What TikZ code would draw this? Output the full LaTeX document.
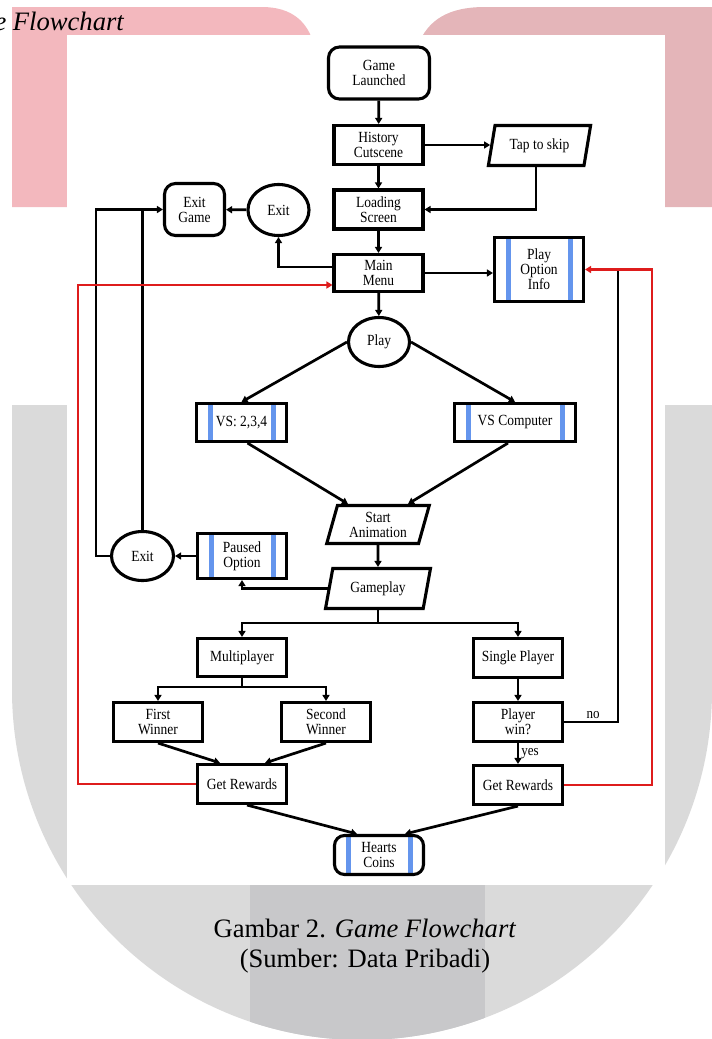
\documentclass[tikz,border=0pt]{standalone}
\usepackage{fontspec}
\setmainfont{Liberation Serif}
\newfontfamily\chartfont{Liberation Serif}[FakeStretch=0.87]
\usetikzlibrary{shapes.geometric,arrows.meta}

\definecolor{logopink}{RGB}{243,184,190}
\definecolor{logorose}{RGB}{228,181,185}
\definecolor{logogray}{RGB}{218,218,218}
\definecolor{logodark}{RGB}{200,200,202}
\definecolor{stripeblue}{RGB}{100,149,237}
\definecolor{backred}{RGB}{222,28,28}

\begin{document}
\begin{tikzpicture}[x=1pt,y=-1pt,
    box/.style={draw, line width=3.1pt, minimum width=89pt, minimum height=39pt, align=center, inner sep=1pt, font=\chartfont\fontsize{15.5}{15}\selectfont},
    startbox/.style={box, rounded corners=11pt},
    iobox/.style={box, trapezium, trapezium left angle=74, trapezium right angle=106, trapezium stretches=true},
    roundnode/.style={box, ellipse, minimum width=61pt, minimum height=51pt},
    subbox/.style={box, path picture={
        \fill[stripeblue, sharp corners] ([xshift=11.5pt]path picture bounding box.south west) rectangle ([xshift=16.5pt]path picture bounding box.north west);
        \fill[stripeblue, sharp corners] ([xshift=-10.5pt]path picture bounding box.south east) rectangle ([xshift=-15.5pt]path picture bounding box.north east);}},
    conn/.style={line width=2.7pt},
    arr/.style={conn, -{Triangle[length=6pt,width=7pt]}},
    redarr/.style={arr, draw=backred, line width=2.9pt},
    lbl/.style={font=\chartfont\fontsize{15}{15}\selectfont, inner sep=2pt}
    ]
\useasboundingbox (0,0) rectangle (712,1039);

\fill[logopink] (12,7) -- (262,7) .. controls (292,7) and (308,22) .. (314,45) -- (314,207) -- (12,207) -- cycle;
\fill[logorose] (418,45) .. controls (428,20) and (448,7) .. (485,7) -- (712,7) -- (712,207) -- (418,207) -- cycle;
\fill[logogray] (12,405) -- (712,405) -- (712,690) arc[start angle=0, end angle=180, radius=350] -- cycle;
\begin{scope}
  \clip (12,405) -- (712,405) -- (712,690) arc[start angle=0, end angle=180, radius=350] -- cycle;
  \fill[logodark] (250,405) rectangle (485,1039);
\end{scope}
\fill[white] (67,35) rectangle (665,885);

\node[anchor=base east, inner sep=0pt, font=\fontsize{26.6}{30}\selectfont\itshape] (cuttitle) at (124,30) {e Flowchart};
\node[anchor=base, inner sep=0pt, font=\fontsize{26.6}{30}\selectfont] (caption) at (365,937) {Gambar 2. \textit{Game Flowchart}};
\node[anchor=base, inner sep=0pt, font=\fontsize{26.6}{30}\selectfont] (source) at (365,967) {(Sumber: Data Pribadi)};

\node[startbox, minimum width=101pt, minimum height=52pt] (launched) at (379,73) {Game\\Launched};
\node[box] (history) at (378.5,145) {History\\Cutscene};
\node[iobox, minimum width=103pt, minimum height=40pt] (tap) at (539.5,145.5) {Tap to skip};
\node[box] (loading) at (378.5,209.5) {Loading\\Screen};
\node[box, minimum height=37pt] (mainmenu) at (378.5,273) {Main\\Menu};
\node[roundnode] (exitc) at (278.5,210) {Exit};
\node[startbox, minimum width=60pt, minimum height=52pt] (exitgame) at (194.5,209.5) {Exit\\Game};
\node[subbox, minimum height=64pt] (optinfo) at (539,269.5) {Play\\Option\\Info};
\node[roundnode, minimum height=49pt] (play) at (379,342) {Play};
\node[subbox, minimum width=90pt, minimum height=38pt] (vs234) at (241.5,422.5) {VS: 2,3,4};
\node[subbox, minimum width=121pt, minimum height=38pt] (vscomp) at (515,422.5) {VS Computer};
\node[iobox, minimum width=103pt, minimum height=38pt] (startanim) at (378,524.5) {Start\\Animation};
\node[iobox, minimum width=105pt, minimum height=40pt] (gameplay) at (378,588.5) {Gameplay};
\node[subbox, minimum height=45pt] (paused) at (242,556) {Paused\\Option};
\node[roundnode, minimum width=62pt, minimum height=49pt] (exitb) at (142.5,556) {Exit};
\node[box, minimum height=38pt] (multi) at (242,657.5) {Multiplayer};
\node[box] (single) at (518,658) {Single Player};
\node[box] (first) at (158,722) {First\\Winner};
\node[box] (second) at (326,722) {Second\\Winner};
\node[box] (playerwin) at (518,722) {Player\\win?};
\node[box] (rewardsa) at (242,784) {Get Rewards};
\node[box] (rewardsb) at (518,785) {Get Rewards};
\node[subbox, rounded corners=10pt] (hearts) at (379,855) {Hearts\\Coins};

\coordinate (exitcorner) at (96,209.5);
\coordinate (nojoin) at (618,269.5);
\coordinate (redleft) at (78,285);
\coordinate (redright) at (652,269.5);

\draw[arr] (launched) -- (history);
\draw[arr] (history.east) -- (history.east -| tap.west);
\draw[arr] (tap.bottom side) |- (loading.east);
\draw[arr] (history) -- (loading);
\draw[arr] (loading) -- (mainmenu);
\draw[arr] ([yshift=6pt]mainmenu.west) -| (exitc.south);
\draw[arr] (exitc) -- (exitgame);
\draw[arr] (mainmenu.east) -- (mainmenu.east -| optinfo.west);
\draw[arr] (mainmenu) -- (play);
\draw[arr] (play.west) -- (vs234.north);
\draw[arr] (play.east) -- (vscomp.north);
\draw[arr] ([xshift=6pt]vs234.south) -- ([xshift=-30pt]startanim.north);
\draw[arr] ([xshift=-7pt]vscomp.south) -- ([xshift=30pt]startanim.north);
\draw[arr] (startanim) -- (gameplay);
\draw[arr] (gameplay.left side) -| (paused.south);
\draw[arr] (paused) -- (exitb);
\draw[arr] (exitb.west) -| (exitcorner) -- (exitgame.west);
\draw[conn] (exitb.north) -- (exitb.north |- exitcorner);
\draw[arr] (gameplay.south) -- ++(0,13) -| (multi.north);
\draw[arr] (gameplay.south) -- ++(0,13) -| (single.north);
\draw[arr] (multi.south) -- ++(0,9) -| (first.north);
\draw[arr] (multi.south) -- ++(0,9) -| (second.north);
\draw[arr] (first.south) -- ([xshift=-22pt]rewardsa.north);
\draw[arr] (second.south) -- ([xshift=23pt]rewardsa.north);
\draw[arr] (single) -- (playerwin);
\draw[arr] (playerwin) -- node[lbl, right] {yes} (rewardsb);
\draw[conn] (playerwin.east) -| node[lbl, pos=0.27, above] {no} (nojoin);
\draw[arr] ([xshift=5pt]rewardsa.south) -- ([xshift=-22pt]hearts.north);
\draw[arr] (rewardsb.south) -- ([xshift=26pt]hearts.north);
\draw[redarr] (rewardsa.west) -| (redleft) -- (redleft -| mainmenu.west);
\draw[redarr] (rewardsb.east) -| (redright) -- (optinfo.east);

\end{tikzpicture}
\end{document}
